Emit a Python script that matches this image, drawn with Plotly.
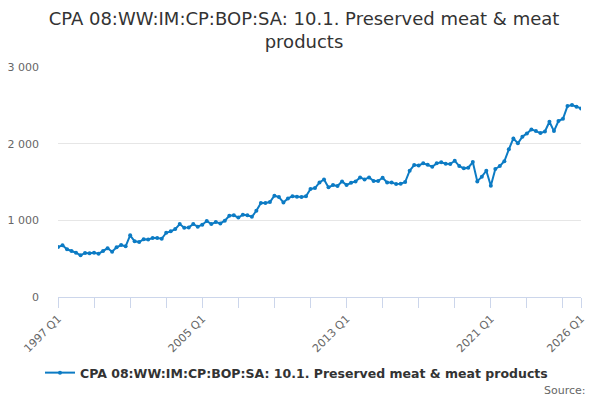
import plotly.graph_objects as go

# -------------------------------
# Data
# -------------------------------

years = list(range(1997, 2027))
quarters = [f"{y} Q{q}" for y in years for q in range(1, 5)][:117]

values = [
    652, 674, 622, 600,      # 1997
    578, 543, 574, 570,      # 1998
    578, 565, 600, 635,      # 1999
    591, 648, 678, 661,      # 2000
    804, 726, 717, 752,      # 2001
    750, 769, 769, 760,      # 2002
    838, 856, 886, 951,      # 2003
    904, 908, 951, 917,      # 2004
    943, 991, 951, 978,      # 2005
    960, 995, 1060, 1065,    # 2006
    1036, 1073, 1065, 1047,  # 2007
    1125, 1225, 1225, 1238,  # 2008
    1321, 1304, 1234, 1286,  # 2009
    1313, 1308, 1304, 1313,  # 2010
    1408, 1421, 1495, 1534,  # 2011
    1430, 1460, 1447, 1508,  # 2012
    1460, 1490, 1508, 1560,  # 2013
    1534, 1560, 1512, 1512,  # 2014
    1556, 1495, 1495, 1473,  # 2015
    1477, 1499, 1647, 1721,  # 2016
    1716, 1743, 1725, 1699,  # 2017
    1743, 1756, 1738, 1734,  # 2018
    1777, 1708, 1678, 1686,  # 2019
    1760, 1508, 1569, 1647,  # 2020
    1452, 1669, 1708, 1770,  # 2021
    1926, 2069, 2004, 2090,  # 2022
    2134, 2186, 2164, 2138,  # 2023
    2160, 2286, 2164, 2295,  # 2024
    2325, 2490, 2503, 2481,  # 2025
    2460,                    # 2026
]

labelled = ["1997 Q1", "2005 Q1", "2013 Q1", "2021 Q1", "2026 Q1"]
y_ticks = [0, 1000, 2000, 3000]

series_name = "CPA 08:WW:IM:CP:BOP:SA: 10.1. Preserved meat & meat products"
blue = "#0c7bc4"

# -------------------------------
# Ticks every 2 years, labels every 8
# -------------------------------

idx = list(range(len(quarters)))
tick_pos = list(range(0, len(quarters), 8)) + [len(quarters) - 1]
tick_txt = [quarters[i] if quarters[i] in labelled else "" for i in tick_pos]

# -------------------------------
# Plot  (page body has an 8px margin, so sizes are 8px smaller)
# -------------------------------

W, H = 592, 392
ML, MT, PW, PH = 50, 59, 523, 230

fig = go.Figure()

fig.add_trace(
    go.Scatter(
        x=idx,
        y=values,
        mode="lines+markers",
        line=dict(color=blue, width=2),
        marker=dict(size=4, color=blue),
        name=series_name,
        text=quarters,
    )
)

fig.update_layout(
    width=W,
    height=H,
    margin=dict(l=ML, r=W - ML - PW, t=MT, b=H - MT - PH),
    paper_bgcolor="white",
    plot_bgcolor="white",
    font=dict(family="DejaVu Sans", color="#333333"),
    separators=". ",
    title=dict(
        text="CPA 08:WW:IM:CP:BOP:SA: 10.1. Preserved meat & meat<br>products",
        x=0.5,
        xanchor="center",
        y=1 - 17 / H,
        yanchor="top",
        font=dict(size=18, color="#333333", family="DejaVu Sans"),
    ),
    showlegend=True,
    legend=dict(
        orientation="h",
        x=(32 - ML) / PW,
        xanchor="left",
        yref="container",
        y=1 - 365 / H,
        yanchor="middle",
        font=dict(size=12.5, color="#333333", family="DejaVu Sans", weight="bold"),
    ),
    xaxis=dict(
        range=[0, len(quarters) - 1],
        tickmode="array",
        tickvals=tick_pos,
        ticktext=tick_txt,
        tickangle=-45,
        ticks="outside",
        ticklen=10,
        tickcolor="#ccd6eb",
        showline=True,
        linecolor="#ccd6eb",
        linewidth=1,
        showgrid=False,
        zeroline=False,
        automargin=False,
        tickfont=dict(size=11, color="#666666"),
    ),
    yaxis=dict(
        range=[0, 3000],
        tickvals=y_ticks,
        tickformat=",d",
        showgrid=True,
        gridcolor="#e6e6e6",
        zeroline=False,
        showline=False,
        ticks="",
        ticklabelstandoff=18,
        automargin=False,
        tickfont=dict(size=11, color="#666666"),
    ),
)

fig.add_annotation(
    text="Source:",
    xref="paper",
    yref="paper",
    x=(580 - ML) / PW,
    y=-(382 - MT - PH) / PH,
    xanchor="right",
    yanchor="middle",
    showarrow=False,
    font=dict(size=11, color="#666666"),
)

fig.write_html("out.html")
